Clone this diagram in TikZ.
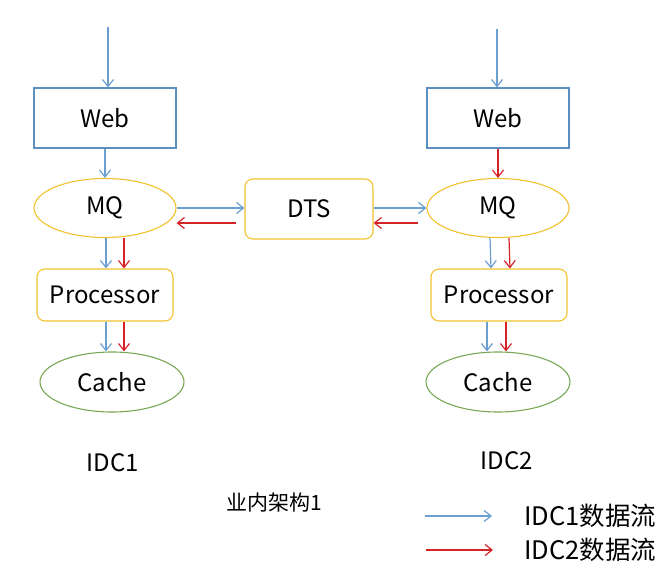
\documentclass[tikz,border=0pt]{standalone}
\usepackage{fontspec}
\setmainfont{Noto Sans CJK SC}
\usepackage{tikz}
\usetikzlibrary{shapes,arrows,arrows.meta,positioning}

\definecolor{flowA}{RGB}{106,159,208}
\definecolor{flowB}{RGB}{212,36,40}
\definecolor{boxA}{RGB}{91,143,192}
\definecolor{boxB}{RGB}{242,193,46}
\definecolor{boxC}{RGB}{120,168,85}

\begin{document}
\begin{tikzpicture}[x=1pt,y=-1pt]
			\tikzstyle{Unit}	= [draw, fill=white, line width=1.1pt, inner sep=0pt, font=\fontsize{24}{26}\selectfont]
			\tikzstyle{Web}		= [rectangle, draw=boxA, minimum width=142pt, minimum height=60pt]
			\tikzstyle{MQ}		= [ellipse, draw=boxB, minimum width=142pt, minimum height=59pt]
			\tikzstyle{Proc}	= [rectangle, rounded corners=8pt, draw=boxB, minimum width=136pt, minimum height=52pt]
			\tikzstyle{Cache}	= [ellipse, draw=boxC, minimum width=144pt, minimum height=60pt]
			\tikzstyle{Label}	= [inner sep=0pt, font=\fontsize{24}{26}\selectfont]
			\tikzstyle{F1}		= [-{Straight Barb[length=7pt,width=11pt]}, line width=1.2pt, flowA]
			\tikzstyle{F2}		= [-{Straight Barb[length=7pt,width=11pt]}, line width=1.2pt, flowB]

			\useasboundingbox (0,0) rectangle (672,575);

			% IDC1
			\coordinate (in1) at (108,27);
			\node (w1) at (105,118) [Unit][Web] {Web};
			\node (mq1) at (105,208) [Unit][MQ] {MQ};
			\node (p1) at (105,295) [Unit][Proc] {Processor};
			\node (c1) at (112,382) [Unit][Cache] {Cache};
			\node (idc1) at (113,463) [Label] {IDC1};

			% DTS
			\node (dts) at (309,209) [Unit][Proc, minimum width=128pt, minimum height=60pt] {DTS};

			% IDC2
			\coordinate (in2) at (497,29);
			\node (w2) at (498,118) [Unit][Web] {Web};
			\node (mq2) at (498,208) [Unit][MQ] {MQ};
			\node (p2) at (499,295) [Unit][Proc] {Processor};
			\node (c2) at (498,382) [Unit][Cache] {Cache};
			\node (idc2) at (507,461) [Label] {IDC2};

			\node (title) at (274,503) [Label, font=\fontsize{21}{24}\selectfont] {业内架构1};

			% legend
			\coordinate (l1a) at (425,516);
			\coordinate (l1b) at (492,516);
			\coordinate (l2a) at (426,550);
			\coordinate (l2b) at (493,550);
			\node (t1) at (524,516) [Label, anchor=west, font=\fontsize{25.5}{28}\selectfont] {IDC1数据流};
			\node (t2) at (524,550) [Label, anchor=west, font=\fontsize{25.5}{28}\selectfont] {IDC2数据流};

			\draw [F1] (in1) to (in1 |- w1.north);
			\draw [F1] (w1) to (mq1);
			\draw [F1] ([xshift=1pt]mq1.south) to ([xshift=1pt]p1.north);
			\draw [F2] ([xshift=19pt]mq1.south) to ([xshift=19pt]p1.north);
			\draw [F1] ([xshift=1pt]p1.south) to ([xshift=1pt]p1.south |- c1.north);
			\draw [F2] ([xshift=19pt]p1.south) to ([xshift=19pt]p1.south |- c1.north);

			\draw [F1] (mq1.east) to (dts.west |- mq1.east);
			\draw [F2] ([xshift=-8pt,yshift=-14pt]dts.west) to ([yshift=-14pt]dts.west -| mq1.east);
			\draw [F1] (dts.east |- mq2.west) to (mq2.west);
			\draw [F2] ([xshift=-8pt,yshift=-14pt]dts.east -| mq2.west) to ([yshift=-14pt]dts.east);

			\draw [F1] (in2) to (in2 |- w2.north);
			\draw [F2] (w2) to (mq2);
			\draw [F1] ([xshift=-8pt]mq2.south) to ([xshift=-8pt]p2.north);
			\draw [F2] ([xshift=11pt]mq2.south) to ([xshift=11pt]p2.north);
			\draw [F1] ([xshift=-12pt]p2.south) to ([xshift=-12pt]p2.south |- c2.north);
			\draw [F2] ([xshift=7pt]p2.south) to ([xshift=7pt]p2.south |- c2.north);

			\draw [F1] (l1a) to (l1b);
			\draw [F2] (l2a) to (l2b);
		\end{tikzpicture}
\end{document}
